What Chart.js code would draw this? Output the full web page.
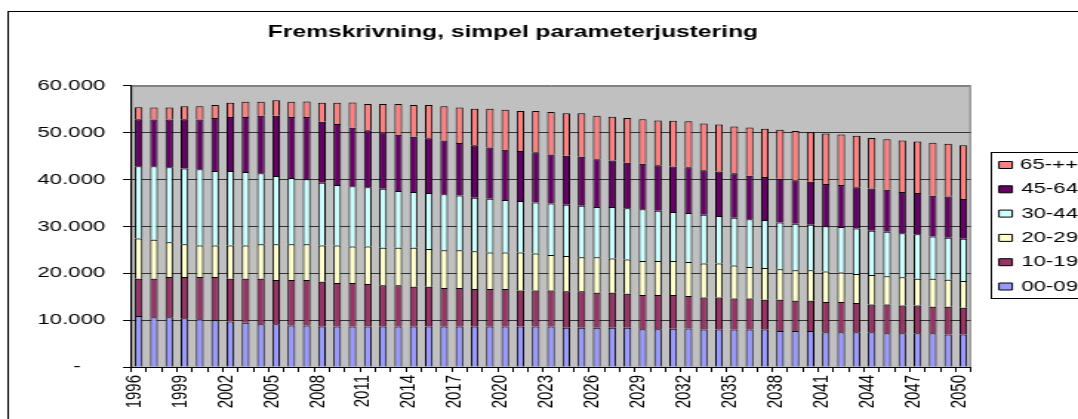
<!DOCTYPE html>
<html>
<head>
<meta charset="utf-8">
<script src="https://cdn.jsdelivr.net/npm/chart.js@4/dist/chart.umd.min.js"></script>
<style>
    html, body { margin: 0; padding: 0; background: #fff; overflow: hidden; }
    /* the original picture is a horizontally stretched Excel chart */
    #wrap { position: absolute; left: 0; top: 0; transform: scaleX(1.48077); transform-origin: 0 0; }
</style>
</head>
<body>
<div id="wrap"><canvas id="myChart" width="740" height="419"></canvas></div>
<script>
const years = [];
for (let y = 1996; y <= 2050; y++) years.push(String(y));

const ageGroups = ['00-09', '10-19', '20-29', '30-44', '45-64', '65-++'];
const colors = ['#9999FF', '#993366', '#FFFFCC', '#CCFFFF', '#660066', '#FF8080'];

const age0009 = [10860, 10640, 10640, 10430, 10210, 10000, 9710, 9430, 9140, 9140,
    8860, 8860, 8640, 8640, 8640, 8640, 8640, 8640, 8640, 8640,
    8640, 8640, 8640, 8640, 8640, 8640, 8640, 8640, 8360, 8360,
    8360, 8360, 8360, 8070, 8070, 8140, 8210, 8000, 8000, 8000,
    8000, 8000, 7710, 7710, 7710, 7430, 7430, 7430, 7430, 7210,
    7210, 7210, 7210, 6930, 6930];
const age1019 = [8000, 8210, 8570, 8790, 9000, 9210, 9140, 9430, 9710, 9430,
    9710, 9710, 9570, 9290, 9290, 9070, 8790, 8790, 8500, 8500,
    8210, 8210, 8000, 8000, 8000, 7710, 7710, 7710, 7790, 7790,
    7500, 7500, 7290, 7290, 7290, 7210, 6930, 6860, 6860, 6640,
    6640, 6360, 6640, 6430, 6430, 6430, 6430, 6210, 5930, 6140,
    5930, 5930, 5640, 5930, 5710];
const age2029 = [8570, 8290, 7430, 7000, 6710, 6710, 7070, 7070, 7360, 7640,
    7640, 7640, 7710, 8000, 7790, 8000, 8000, 8000, 8290, 8070,
    8070, 8070, 8070, 7790, 7790, 8070, 7860, 7570, 7570, 7290,
    7570, 7290, 7290, 7290, 7290, 7290, 7290, 7210, 7210, 7000,
    6710, 6790, 6500, 6500, 6500, 6500, 6290, 6210, 6290, 6000,
    6000, 5710, 6000, 5790, 5710];
const age3044 = [15430, 15710, 16000, 16140, 16290, 15930, 15930, 15710, 15140, 14570,
    14140, 13860, 13430, 12930, 12860, 12640, 12640, 12140, 11930, 11930,
    11930, 11710, 11430, 11500, 11210, 11000, 10930, 11000, 10930, 11000,
    10710, 11000, 10930, 11000, 10710, 10430, 10430, 10430, 10140, 10210,
    10210, 10210, 10000, 9930, 9710, 9710, 9710, 9710, 9430, 9500,
    9430, 9500, 9000, 8930, 9000];
const age4564 = [10000, 10000, 10210, 10500, 10640, 11290, 11500, 11710, 12290, 12860,
    13000, 13290, 13000, 13000, 12500, 12210, 12000, 12000, 11790, 11710,
    11500, 11210, 11210, 10930, 10710, 10710, 10710, 10430, 10430, 10430,
    10210, 9930, 9710, 9710, 9710, 9710, 9790, 9500, 9500, 9500,
    9290, 9210, 9360, 9290, 9210, 9000, 9000, 8790, 9000, 9000,
    8790, 8790, 8710, 8790, 8500];
const age65 = [2570, 2570, 2570, 2790, 2790, 2790, 3070, 3290, 3000, 3290,
    3290, 3290, 4070, 4570, 5360, 5570, 6070, 6570, 6790, 7070,
    7290, 7570, 7790, 8290, 8570, 8500, 8790, 9070, 9070, 9290,
    9290, 9360, 9570, 9500, 9570, 9790, 9790, 10000, 10070, 10000,
    10290, 10290, 10430, 10500, 10570, 10790, 10790, 11000, 10790, 10790,
    11000, 11000, 11290, 11290, 11500];

const seriesValues = [age0009, age1019, age2029, age3044, age4564, age65];

const yTicks = [0, 10000, 20000, 30000, 40000, 50000, 60000];

Chart.defaults.font.family = "'Liberation Sans', Arial, sans-serif";
Chart.defaults.color = '#000';

// background, outer frame, plot border, legend box; also places title and legend
const framePlugin = {
    id: 'frame',
    beforeDraw: function (chart) {
        const c = chart.ctx;
        const a = chart.chartArea;

        chart.titleBlock.left = 0;
        chart.titleBlock.right = 692.8;

        const lg = chart.legend;
        lg.left = 665.3;
        lg.right = 728;   // labels are right aligned on this edge
        lg.top = 148.2;
        lg.bottom = 419;

        c.save();
        c.lineWidth = 1;
        c.strokeStyle = '#000';
        c.strokeRect(5.5, 11.5, chart.width + 20, chart.height + 20);

        c.fillStyle = '#C0C0C0';
        c.fillRect(a.left, a.top, a.right - a.left, a.bottom - a.top);
        c.strokeStyle = '#808080';
        c.strokeRect(a.left + 0.5, a.top + 0.5, a.right - a.left - 1, a.bottom - a.top);

        c.strokeStyle = '#000';
        c.strokeRect(669.5, 152.5, 120, 146);
        c.restore();
    }
};

let ctx = document.getElementById('myChart').getContext('2d');
let myChart = new Chart(ctx, {
    type: 'bar',
    data: {
        labels: years,
        datasets: ageGroups.map(function (name, i) {
            return {
                label: name,
                data: seriesValues[i],
                backgroundColor: colors[i],
                borderColor: '#000',
                borderWidth: 1,
                barPercentage: 0.5,
                categoryPercentage: 1
            };
        })
    },
    options: {
        responsive: false,
        animation: false,
        layout: { padding: { left: 0, right: 24.3, top: 0, bottom: 0 } },
        plugins: {
            title: {
                display: true,
                text: 'Fremskrivning, simpel parameterjustering',
                color: '#000',
                font: { size: 16.6, weight: 'bold' },
                padding: { top: 22, bottom: 44 }
            },
            legend: {
                position: 'right',
                align: 'start',
                reverse: true,
                maxWidth: 60,
                labels: {
                    boxWidth: 9,
                    boxHeight: 7,
                    padding: 9.3,
                    color: '#000',
                    textAlign: 'right',
                    font: { size: 15 }
                }
            },
            tooltip: { enabled: false }
        },
        scales: {
            x: {
                stacked: true,
                grid: { offset: true, drawOnChartArea: false, tickLength: 5, tickColor: '#000' },
                border: { color: '#000' },
                ticks: {
                    autoSkip: false,
                    minRotation: 90,
                    maxRotation: 90,
                    labelOffset: -3,
                    font: { size: 15 },
                    callback: function (v, i) { return i % 3 === 0 ? years[i] : ''; }
                },
                afterFit: function (s) { s.height = 52; }
            },
            y: {
                stacked: true,
                min: 0,
                max: 60000,
                afterBuildTicks: function (s) { s.ticks = yTicks.map(function (v) { return { value: v }; }); },
                grid: {
                    color: function (c) { return c.tick && c.tick.value === 60000 ? '#808080' : '#333'; },
                    tickLength: 5.4,
                    tickColor: '#000'
                },
                border: { color: '#000' },
                ticks: {
                    padding: 12,
                    font: { size: 15 },
                    callback: function (v) { return v === 0 ? '-    ' : (v / 1000) + '.000'; }
                },
                afterFit: function (s) { s.width = 88.5; }
            }
        }
    },
    plugins: [framePlugin]
});
</script>
</body>
</html>
